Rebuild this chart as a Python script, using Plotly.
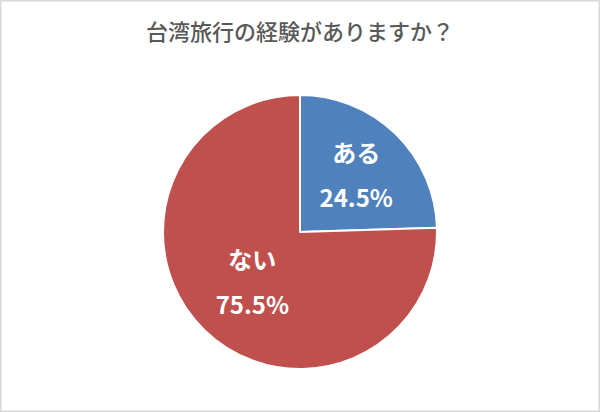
import plotly.graph_objects as go

title = "台湾旅行の経験がありますか？"
labels = ["ある", "ない"]
values = [24.5, 75.5]
colors = ["#4F81BD", "#C0504D"]

W, H = 600, 412
# pie circle: centre (300, 232), radius 137
cx, cy, r = 300, 232, 137

# base font size sets the line gap (1.3em), the spans set the glyph size
lbl = "<span style='font-size:24px'>%{label}</span><br><span style='font-size:24px'>%{value:.1f}%</span>"

fig = go.Figure(
    go.Pie(
        labels=labels,
        values=values,
        sort=False,
        direction="clockwise",
        rotation=0,
        marker=dict(colors=colors, line=dict(color="white", width=2)),
        texttemplate=lbl,
        textposition="inside",
        insidetextorientation="horizontal",
        textfont=dict(family="Noto Sans CJK JP", size=35, color="white", weight="bold"),
        hoverinfo="label+percent",
        domain=dict(
            x=[(cx - r) / W, (cx + r) / W],
            y=[1 - (cy + r) / H, 1 - (cy - r) / H],
        ),
    )
)

fig.update_layout(
    width=W,
    height=H,
    margin=dict(l=0, r=0, t=0, b=0),
    paper_bgcolor="white",
    showlegend=False,
    title=dict(
        text=title,
        x=0.5,
        xanchor="center",
        y=1 - 32 / H,
        yanchor="middle",
        font=dict(family="Noto Sans CJK JP", size=22, color="#595959", weight=500),
    ),
    shapes=[
        dict(
            type="rect", xref="paper", yref="paper",
            x0=0, x1=1, y0=0, y1=1,
            line=dict(color="#D9D9D9", width=3),
        )
    ],
)

# drop the default body margin so the figure fills the window
fig.write_html(
    "out.html",
    config={"displayModeBar": False},
    post_script="document.body.style.margin='0';",
)
